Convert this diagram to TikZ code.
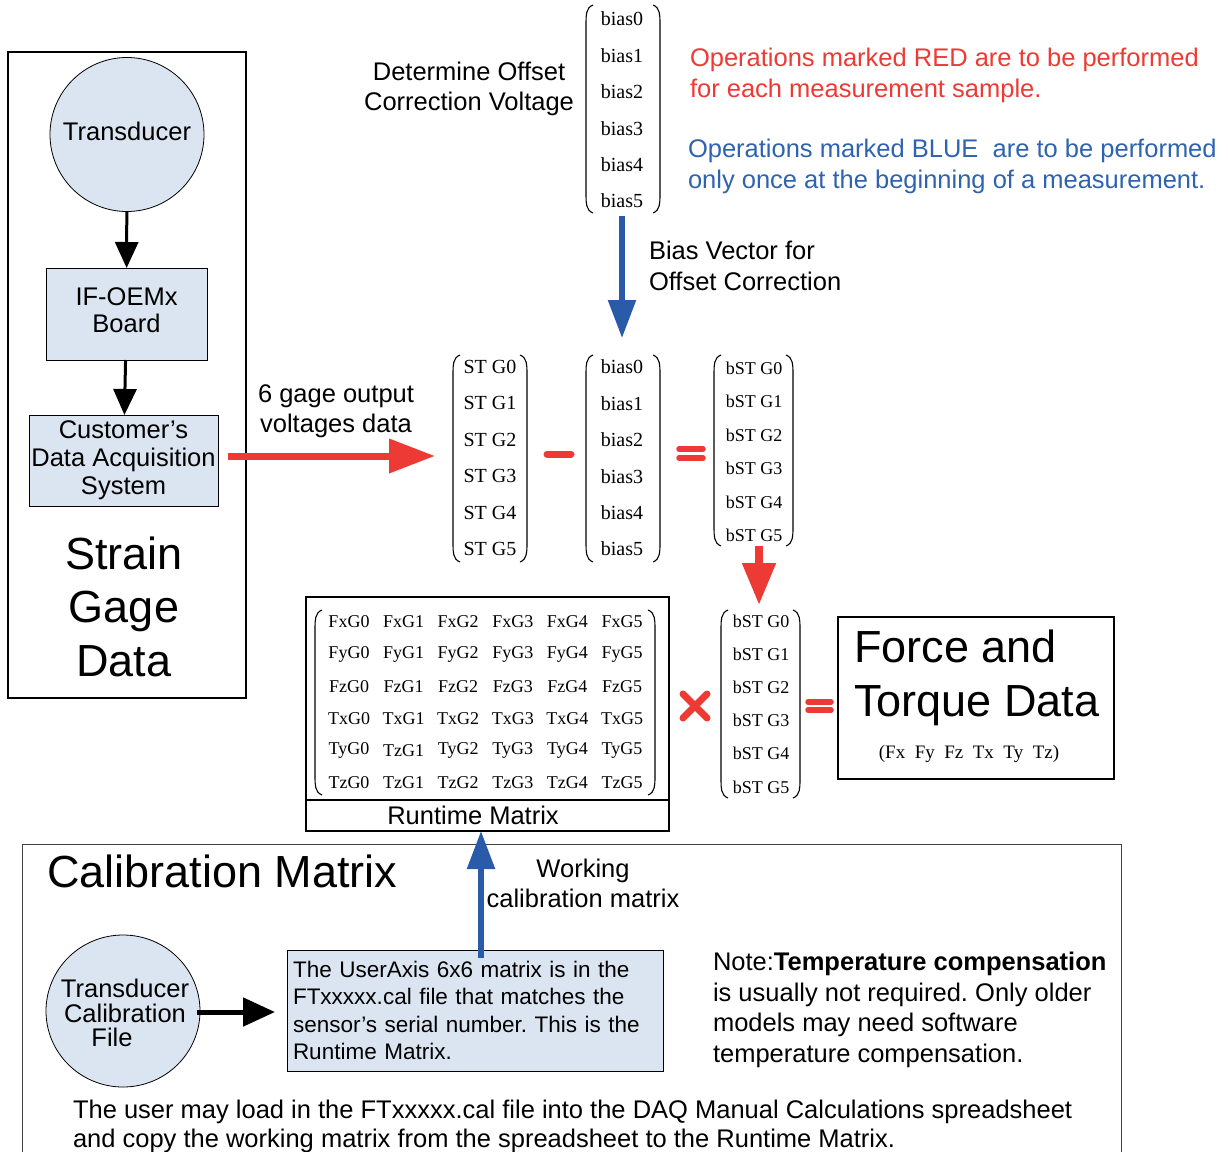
\documentclass[tikz,border=0pt]{standalone}
\usepackage{fontspec}
\setmainfont{Liberation Sans}
\newfontfamily\serifent{Liberation Serif}
\usetikzlibrary{arrows.meta,shapes.geometric}
\definecolor{lb}{HTML}{DBE5F1}
\definecolor{rd}{HTML}{EE3A34}
\definecolor{bl}{HTML}{2A5BA8}
\definecolor{bltxt}{HTML}{2E63B0}
\newcommand\fsz[2]{\fontsize{#1}{#2}\selectfont}
\newcommand\mparens[1]{%
  \draw[parenline] ([xshift=7pt]#1.north west) to[out=200,in=90] ([yshift=-18pt]#1.north west)
     -- ([yshift=18pt]#1.south west) to[out=-90,in=160] ([xshift=7pt]#1.south west);
  \draw[parenline] ([xshift=-7pt]#1.north east) to[out=-20,in=90] ([yshift=-18pt]#1.north east)
     -- ([yshift=18pt]#1.south east) to[out=-90,in=20] ([xshift=-7pt]#1.south east);}
\frenchspacing
\begin{document}
\begin{tikzpicture}[x=1pt,y=-1pt,
  every node/.style={inner sep=0pt, outer sep=0pt},
  txt/.style={font=\fsz{25.5}{30}},
  big/.style={font=\fsz{45}{53.5}},
  lbbox/.style={draw, fill=lb, line width=0.8pt},
  ent/.style={font=\serifent\fsz{20}{24}},
  bent/.style={font=\serifent\fsz{18}{22}},
  rent/.style={font=\serifent\fsz{18}{22}},
  parenline/.style={line width=1.1pt},
  blkarrow/.style={line width=3pt, -{Triangle[width=23pt,length=26pt]}},
  redarrow/.style={rd, line width=7pt, -{Triangle[width=33pt,length=46pt]}},
  bluearrow/.style={bl, line width=5.5pt, -{Triangle[width=27pt,length=38pt]}},
  redop/.style={rd, line width=7pt, line cap=round},
]
\useasboundingbox (0,0) rectangle (1228,1151);
\fill[white] (0,0) rectangle (1228,1151);

% ---------- Strain gage data box ----------
\node[draw, line width=1.8pt, minimum width=238, minimum height=646] (sgbox) at (127,375) {};
\node[lbbox, circle, minimum size=154] (trans) at (127,134.5) {};
\node[txt] (translabel) at (127,131.5) {Transducer};
\node[lbbox, minimum width=161, minimum height=92] (ifb) at (126.5,314) {};
\node[align=center, font=\fsz{25.5}{27}] (ifblabel) at (126.5,310.5) {IF-OEMx\\Board};
\node[lbbox, minimum width=189, minimum height=91, align=center, font=\fsz{25.5}{28}] (daq) at (123.5,460.5) {Customer’s\\Data Acquisition\\System};
\node[big, align=center] (sgd) at (124,606.5) {Strain\\Gage\\Data};
\draw[blkarrow] (trans) -- (ifb);
\draw[blkarrow] (ifb) -- (daq);

% ---------- top texts ----------
\node[txt, align=center] (det) at (469,89) {Determine Offset\\Correction Voltage};
\node[txt, align=left, anchor=west, text=rd, font=\fsz{25.5}{31}] (redtxt) at (690,75.5) {Operations marked RED are to be performed\\for each measurement sample.};
\node[txt, align=left, anchor=west, text=bltxt, font=\fsz{25.5}{31}] (bluetxt) at (688,166.5) {Operations marked BLUE~ are to be performed\\only once at the beginning of a measurement.};
\node[txt, align=left, anchor=west, font=\fsz{25.5}{31}] (biasv) at (649,265.5) {Bias Vector for\\Offset Correction};
\node[txt, align=center] (gage) at (336,411) {6 gage output\\voltages data};

% ---------- vectors ----------
\node[minimum width=74, minimum height=208] (tbias) at (623,109) {};
\node[minimum width=74, minimum height=207] (stm) at (490,458.5) {};
\node[minimum width=74, minimum height=207] (mbias) at (623,458.5) {};
\node[minimum width=79, minimum height=191] (bst1) at (753.5,450.5) {};
\node[minimum width=79, minimum height=188] (bst2) at (760.5,704) {};
\node[minimum width=340, minimum height=185] (rtm) at (485,702.5) {};
\mparens{tbias}
\mparens{stm}
\mparens{mbias}
\mparens{bst1}
\mparens{bst2}
\mparens{rtm}
\foreach \i in {0,...,5} {
  \node[ent] (tb\i) at (622,19+36.4*\i) {bias\i};
  \node[ent] (st\i) at (490,367+36.4*\i) {ST G\i};
  \node[ent] (mb\i) at (622,367+36.4*\i) {bias\i};
  \node[bent] (ba\i) at (754,368+33.5*\i) {bST G\i};
  \node[bent] (bb\i) at (761,621+33.2*\i) {bST G\i};
}
\foreach \row [count=\ri from 0] in {{FxG0,FxG1,FxG2,FxG3,FxG4,FxG5},{FyG0,FyG1,FyG2,FyG3,FyG4,FyG5},{FzG0,FzG1,FzG2,FzG3,FzG4,FzG5},{TxG0,TxG1,TxG2,TxG3,TxG4,TxG5},{TyG0,TzG1,TyG2,TyG3,TyG4,TyG5},{TzG0,TzG1,TzG2,TzG3,TzG4,TzG5}} {
  \foreach \e [count=\j from 0] in \row {
    \node[rent] (rm\ri\j) at (349+54.6*\j,622+32.2*\ri) {\e};
  }
}

% ---------- runtime matrix box ----------
\node[draw, line width=2.4pt, minimum width=363, minimum height=234] (rtbox) at (487.5,714) {};
\draw[line width=2.4pt] (rtbox.west |- 0,800) -- (rtbox.east |- 0,800);
\node[txt] (rtlabel) at (473,815) {Runtime Matrix};

% ---------- operators ----------
\draw[redop] (547,454) -- (571,454);
\draw[redop, line width=5.5pt] (679,449) -- (703,449);
\draw[redop, line width=5.5pt] (679,458) -- (703,458);
\draw[redop] (683,694) -- (707,718);
\draw[redop] (683,718) -- (707,694);
\draw[redop, line width=5.5pt] (808,702) -- (831,702);
\draw[redop, line width=5.5pt] (808,710) -- (831,710);

% ---------- force and torque ----------
\node[draw, line width=1.2pt, minimum width=276, minimum height=162] (fbox) at (976,698) {};
\node[big, align=left, anchor=west] (ftxt) at (854,678) {Force and\\Torque Data};
\node[font=\serifent\fsz{19}{22}] (fcomp) at (969,754) {(Fx~\ Fy~\ Fz~\ Tx~\ Ty~\ Tz)};

% ---------- arrows in the upper part ----------
\coordinate (rs) at (228,456);
\coordinate (re) at (435,456);
\draw[redarrow] (rs) -- (re);
\coordinate (bs) at (622,216);
\coordinate (be) at (622,338);
\draw[bluearrow] (bs) -- (be);
\coordinate (ds) at (759,546);
\coordinate (de) at (759,605);
\draw[redarrow, line width=8pt, -{Triangle[width=32pt,length=42pt]}] (ds) -- (de);

% ---------- calibration section ----------
\node[draw=black!75, line width=1pt, minimum width=1099, minimum height=314] (calbox) at (571.5,1001) {};
\node[big, anchor=west] (caltitle) at (47,871) {Calibration Matrix};
\node[lbbox, ellipse, minimum width=154, minimum height=152] (tcf) at (123,1011) {};
\node[font=\fsz{25.5}{24.5}, align=center] (tcftxt) at (125,1013) {Transducer\\Calibration\\File\hspace*{26pt}};
\node[lbbox, minimum width=376, minimum height=121, text width=364, inner xsep=6pt, align=left, font=\fsz{22.5}{27.3}] (ua) at (475,1010.5)
  {The UserAxis 6x6 matrix is in the\\FTxxxxx.cal file that matches the\\sensor’s serial number. This is the\\Runtime Matrix.};
\coordinate (ks) at (197,1012);
\coordinate (ke) at (275,1012);
\draw[line width=5pt, -{Triangle[width=28pt,length=32pt]}] (ks) -- (ke);
\coordinate (ws) at (481,958);
\draw[bluearrow] (ws) -- (ws |- rtbox.south);
\node[txt, align=center] (work) at (583,883) {Working\\calibration matrix};
\node[txt, align=left, anchor=west, font=\fsz{25.5}{30.7}] (note) at (713,1010)
  {Note:\textbf{Temperature compensation}\\is usually not required. Only older\\models may need software\\temperature compensation.};
\node[txt, align=left, anchor=west, font=\fsz{25.5}{29}] (bottom) at (73,1126)
  {The user may load in the FTxxxxx.cal file into the DAQ Manual Calculations spreadsheet\\and copy the working matrix from the spreadsheet to the Runtime Matrix.};
\end{tikzpicture}
\end{document}
